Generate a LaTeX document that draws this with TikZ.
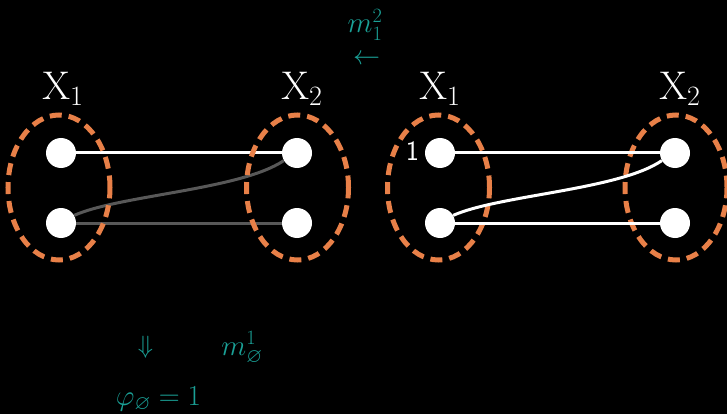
\RequirePackage{fix-cm}
\documentclass[tikz,border=0pt]{standalone}
\usepackage{amssymb}
\usetikzlibrary{shapes.geometric}
\definecolor{teal1}{RGB}{26,160,150}
\definecolor{org}{RGB}{232,128,72}
\definecolor{dim}{RGB}{88,88,88}
\begin{document}
\begin{tikzpicture}[x=1pt,y=-1pt,
  dot/.style={circle,fill=white,inner sep=0pt,minimum size=30pt},
  grp/.style={ellipse,draw=org,line width=5pt,dash pattern=on 12pt off 7pt,inner sep=0pt,minimum width=102pt,minimum height=145pt},
  lab/.style={text=white,anchor=base,inner sep=0pt,font=\fontsize{40}{48}\selectfont},
  tl/.style={text=teal1,inner sep=0pt,font=\fontsize{29}{34}\selectfont},
  wl/.style={white,line width=3pt},
  gl/.style={dim,line width=3pt}]
\fill[black] (0,0) rectangle (727,414);
\useasboundingbox (0,0) rectangle (727,414);
% left panel
\node[dot] (a1) at (61,153) {};
\node[dot] (a2) at (61,223) {};
\node[dot] (b1) at (297,153) {};
\node[dot] (b2) at (297,223) {};
\draw[wl] (a1) -- (b1);
\draw[gl] (a2.east) -- (b2.west);
\draw[gl] (a2.30) .. controls (120,195) and (240,190) .. (b1.210);
\node[grp] (ea) at (59,187.5) {};
\node[grp] (eb) at (297.5,187.5) {};
\node[lab] (xa) at (63,100) {$\mathrm{X}_1$};
\node[lab] (xb) at (302,100) {$\mathrm{X}_2$};
% right panel
\node[grp] (ec) at (438.5,187.5) {};
\node[grp] (ed) at (676,187.5) {};
\node[dot] (c1) at (440,153) {};
\node[dot] (c2) at (440,223) {};
\node[dot] (d1) at (675,153) {};
\node[dot] (d2) at (675,223) {};
\draw[wl] (c1) -- (d1);
\draw[wl] (c2.east) -- (d2.west);
\draw[wl] (c2.30) .. controls (499,195) and (619,190) .. (d1.210);
\node[lab] (xc) at (440,100) {$\mathrm{X}_1$};
\node[lab] (xd) at (680,100) {$\mathrm{X}_2$};
\node[text=white,font=\sffamily\fontsize{28}{34}\selectfont,inner sep=0pt] (one) at (412.5,151) {1};
% teal labels
\node[tl,anchor=base] (m12) at (365,33) {$m_1^2$};
\node[tl,font=\fontsize{27}{32}\selectfont] (larr) at (366.5,60) {$\leftarrow$};
\node[tl,font=\fontsize{25}{30}\selectfont] (darr) at (145.5,347) {$\Downarrow$};
\node[tl,anchor=base] (m01) at (242,355) {$m_\varnothing^1$};
\node[tl,anchor=base] (phi) at (158.5,405) {$\varphi_\varnothing = 1$};
\end{tikzpicture}
\end{document}
